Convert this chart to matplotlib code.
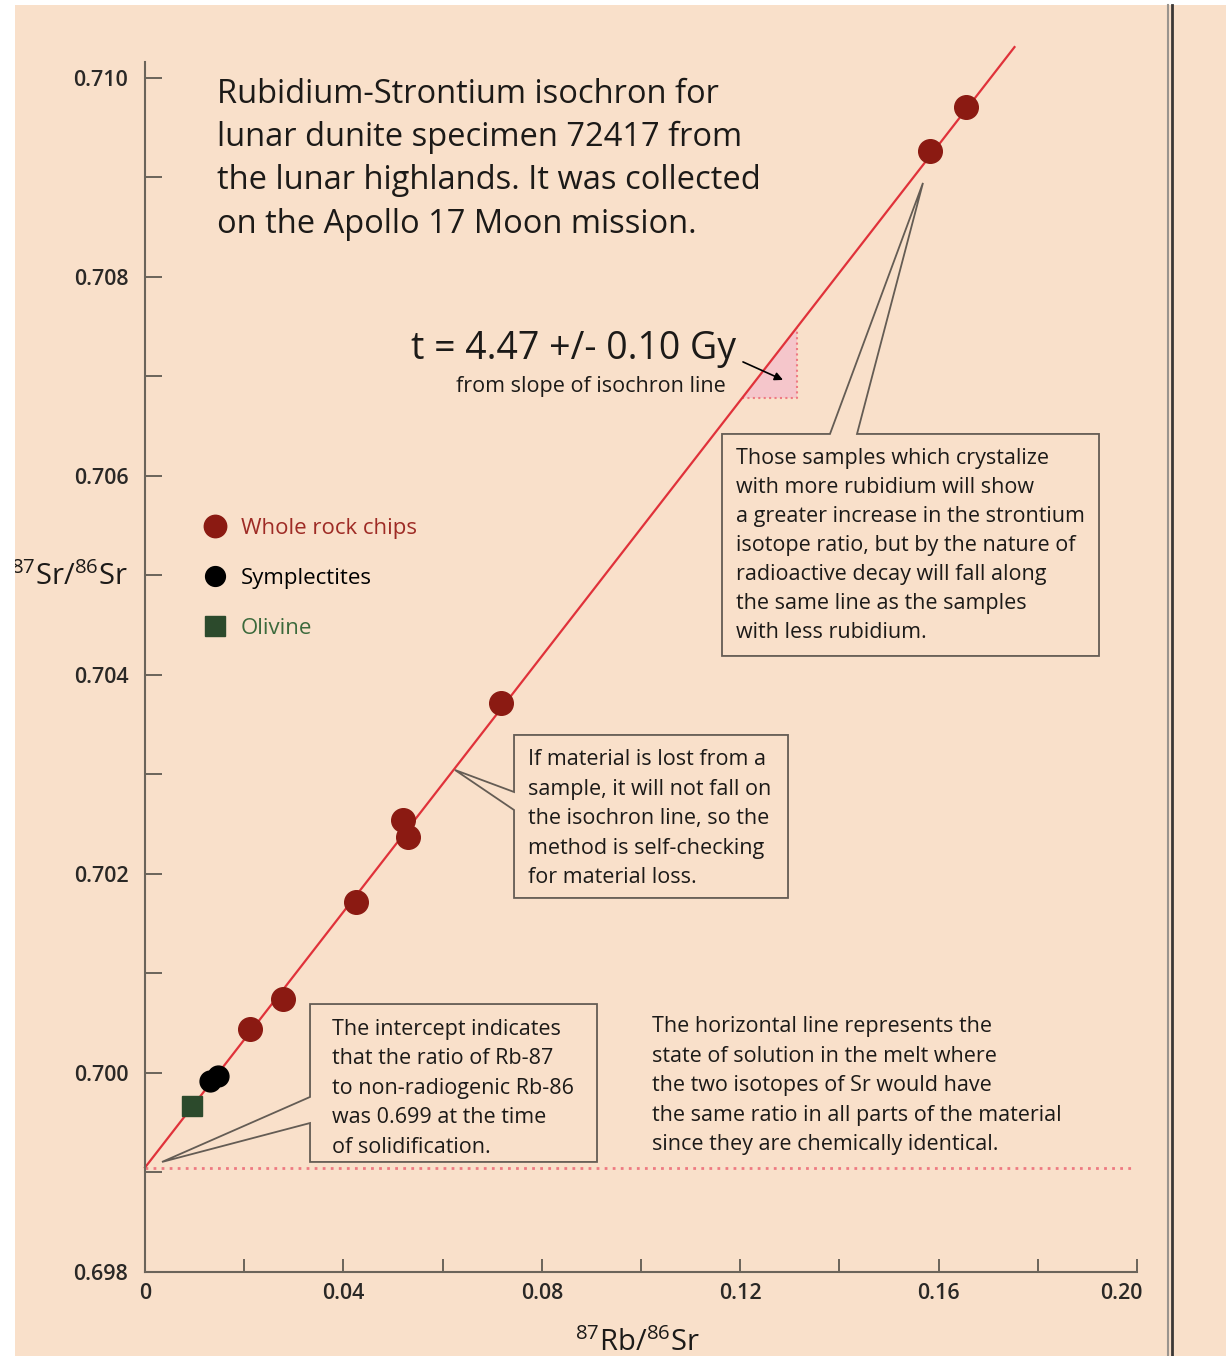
import matplotlib.pyplot as plt
import numpy as np
from matplotlib.patches import Polygon, Rectangle
from matplotlib.lines import Line2D
from matplotlib.transforms import ScaledTranslation

plt.rcParams['font.family'] = ['Open Sans', 'DejaVu Sans']
plt.rcParams['mathtext.fontset'] = 'custom'
plt.rcParams['mathtext.rm'] = 'Open Sans'
plt.rcParams['mathtext.it'] = 'Open Sans:italic'
plt.rcParams['mathtext.bf'] = 'Open Sans:bold'
plt.rcParams['mathtext.default'] = 'regular'

# 87Rb/86Sr and 87Sr/86Sr for each sample type
rock_x = [0.0212, 0.0278, 0.0425, 0.0520, 0.0530, 0.0717, 0.1582, 0.1656]
rock_y = [0.70044, 0.70074, 0.70172, 0.70254, 0.70237, 0.70372, 0.70927, 0.70971]
symp_x = [0.0131, 0.0147]
symp_y = [0.69992, 0.69997]
oliv_x = [0.0095]
oliv_y = [0.69967]

# isochron end points and the initial ratio
iso_x = [0.0, 0.1753]
iso_y = [0.69905, 0.71031]
initial_ratio = 0.69905

x_ticks = [0.0, 0.04, 0.08, 0.12, 0.16, 0.20]
x_ticklabels = ['0', '0.04', '0.08', '0.12', '0.16', '0.20']
x_minor = [0.02, 0.06, 0.10, 0.14, 0.18]
y_ticks = [0.698, 0.700, 0.702, 0.704, 0.706, 0.708, 0.710]
y_ticklabels = ['0.698', '0.700', '0.702', '0.704', '0.706', '0.708', '0.710']
y_minor = [0.699, 0.701, 0.703, 0.705, 0.707, 0.709]

title_lines = ['Rubidium-Strontium isochron for',
               'lunar dunite specimen 72417 from',
               'the lunar highlands. It was collected',
               'on the Apollo 17 Moon mission.']
note_crystal = ['Those samples which crystalize',
                'with more rubidium will show',
                'a greater increase in the strontium',
                'isotope ratio, but by the nature of',
                'radioactive decay will fall along',
                'the same line as the samples',
                'with less rubidium.']
note_loss = ['If material is lost from a',
             'sample, it will not fall on',
             'the isochron line, so the',
             'method is self-checking',
             'for material loss.']
note_intercept = ['The intercept indicates',
                  'that the ratio of Rb-87',
                  'to non-radiogenic Rb-86',
                  'was 0.699 at the time',
                  'of solidification.']
note_horizontal = ['The horizontal line represents the',
                   'state of solution in the melt where',
                   'the two isotopes of Sr would have',
                   'the same ratio in all parts of the material',
                   'since they are chemically identical.']

BG = '#F9E0CA'
AXC = '#6B645A'
BOXC = '#645C54'
RED = '#8B1A12'
LINE = '#E0323A'
PINK = '#EE7A82'
INK = '#1c1a18'

fig = plt.figure(figsize=(12.26, 13.56), dpi=100, facecolor=BG)
ax = fig.add_axes([145 / 1226, 84 / 1356, 992 / 1226, 1210 / 1356])
ax.set_facecolor(BG)
ax.set_xlim(0, 0.20)
ax.set_ylim(0.698, 0.71016)

for s in ['top', 'right']:
    ax.spines[s].set_visible(False)
for s in ['left', 'bottom']:
    ax.spines[s].set_color(AXC)
    ax.spines[s].set_linewidth(1.5)

ax.set_xticks(x_ticks)
ax.set_xticklabels(x_ticklabels)
ax.set_xticks(x_minor, minor=True)
ax.set_yticks(y_ticks)
ax.set_yticklabels(y_ticklabels)
ax.set_yticks(y_minor, minor=True)
ax.tick_params(axis='both', which='both', direction='in', color=AXC, width=1.4,
               labelsize=15.5, labelcolor='#2a2826')
ax.tick_params(axis='y', which='both', length=12, pad=12)
ax.tick_params(axis='x', which='both', length=9.5, pad=8)
for lab in ax.get_xticklabels() + ax.get_yticklabels():
    lab.set_fontweight('semibold')
# pull the last x label in from the frame edge
last = ax.get_xticklabels()[-1]
last.set_transform(last.get_transform() + ScaledTranslation(-16 / 100, 0, fig.dpi_scale_trans))

ax.set_ylabel(r'$^{87}$Sr/$^{86}$Sr', rotation=0, fontsize=21, ha='right', va='center',
              color=INK)
ax.yaxis.set_label_coords(-0.0171, 0.574)
ax.set_xlabel(r'$^{87}$Rb/$^{86}$Sr', fontsize=21, va='center', color=INK)
ax.xaxis.set_label_coords(0.496, -0.059)

# initial ratio and the isochron
ax.plot([0, 0.1992], [initial_ratio, initial_ratio], color=PINK, lw=2.0,
        ls=(0, (1, 1.9)), zorder=2)
ax.plot(iso_x, iso_y, color=LINE, lw=1.6, zorder=2, clip_on=False)

# slope triangle under the isochron
tri_bottom, tri_right = 0.70678, 0.1314
tri_left = np.interp(tri_bottom, iso_y, iso_x)
tri_top = np.interp(tri_right, iso_x, iso_y)
ax.add_patch(Polygon([(tri_left, tri_bottom), (tri_right, tri_bottom), (tri_right, tri_top)],
                     closed=True, facecolor='#F5C6CB', edgecolor='none', zorder=1))
ax.plot([tri_left, tri_right, tri_right], [tri_bottom, tri_bottom, tri_top],
        color=PINK, lw=1.5, ls=(0, (1, 1.6)), zorder=1)

ax.plot(rock_x, rock_y, 'o', ms=17, color=RED, label='Whole rock chips', zorder=4)
ax.plot(symp_x, symp_y, 'o', ms=15, color='black', label='Symplectites', zorder=4)
ax.plot(oliv_x, oliv_y, 's', ms=15, color='#2C4A2C', label='Olivine', zorder=4)

leg = ax.legend(loc='upper left', bbox_to_anchor=(0.0594, 0.623), frameon=False,
                fontsize=16, handlelength=1.0, handletextpad=0.67, labelspacing=1.29,
                borderpad=0, borderaxespad=0, markerscale=0.95,
                labelcolor=['#9E2B25', 'black', '#3C6A3C'])
for t in leg.get_texts():
    t.set_fontweight('medium')


def callout(verts):
    ax.add_patch(Polygon(verts, closed=True, facecolor=BG, edgecolor=BOXC,
                         lw=1.3, zorder=3, joinstyle='miter'))


def block(x, y0, step, rows, size):
    for i, row in enumerate(rows):
        ax.text(x, y0 - i * step, row, fontsize=size, ha='left', fontweight='medium',
                va='center_baseline', color=INK, zorder=5)


callout([(0.11633, 0.706422), (0.13810, 0.706422), (0.15685, 0.708945),
         (0.14355, 0.706422), (0.19234, 0.706422), (0.19234, 0.704191),
         (0.11633, 0.704191)])
callout([(0.07440, 0.703397), (0.12964, 0.703397), (0.12964, 0.701759),
         (0.07440, 0.701759), (0.07440, 0.702643), (0.0625, 0.703045),
         (0.07440, 0.702824)])
callout([(0.03327, 0.700693), (0.09113, 0.700693), (0.09113, 0.699106),
         (0.03327, 0.699106), (0.03327, 0.699497), (0.00343, 0.699106),
         (0.03327, 0.699759)])

block(0.0145, 0.709874, 0.000434, title_lines, 23.5)
block(0.11915, 0.706196, 0.0002905, note_crystal, 15.5)
block(0.07722, 0.703171, 0.0002965, note_loss, 15.5)
block(0.0377, 0.700467, 0.0002965, note_intercept, 15.5)
block(0.10222, 0.700492, 0.0002975, note_horizontal, 15.5)

ax.text(0.0536, 0.707317, 't = 4.47 +/- 0.10 Gy', fontsize=27, va='center_baseline',
        color=INK)
ax.text(0.0627, 0.706920, 'from slope of isochron line', fontsize=15.5,
        fontweight='medium', va='center_baseline', color=INK)
ax.annotate('', xy=(0.12863, 0.706965), xytext=(0.12056, 0.707146),
            arrowprops=dict(arrowstyle='-|>', color='black', lw=1.2, mutation_scale=12,
                            shrinkA=0, shrinkB=0))

# page edges and the frame rule on the right
fig.add_artist(Rectangle((0, 0), 15 / 1226, 1, transform=fig.transFigure,
                         facecolor='white', edgecolor='none'))
fig.add_artist(Rectangle((0, 1 - 5 / 1356), 1, 5 / 1356, transform=fig.transFigure,
                         facecolor='white', edgecolor='none'))
top = 1 - 5 / 1356
fig.add_artist(Line2D([1167.5 / 1226] * 2, [0, top], transform=fig.transFigure,
                      color='#9a948e', lw=1.5))
fig.add_artist(Line2D([1172.3 / 1226] * 2, [0, top], transform=fig.transFigure,
                      color='#3c3836', lw=2.0))

fig.savefig('out.png', dpi=100, facecolor=BG)
